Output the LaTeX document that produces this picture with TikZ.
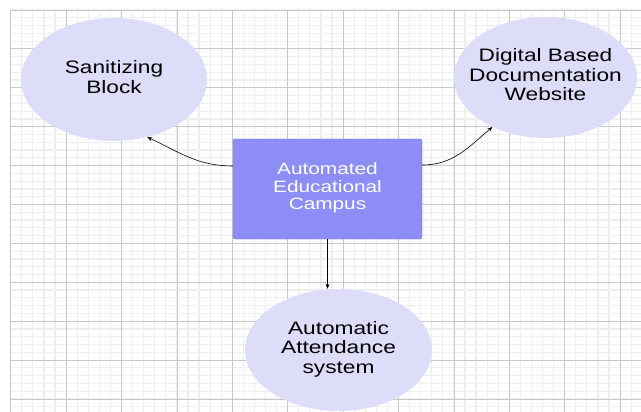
\documentclass[tikz,border=0pt]{standalone}
\usepackage{fontspec}
\setmainfont{Liberation Sans}
\usepackage{graphicx}
\usetikzlibrary{shapes.geometric, arrows.meta}

\definecolor{ovalfill}{RGB}{221,221,250}
\definecolor{boxfill}{RGB}{141,141,247}
\definecolor{boxline}{RGB}{118,118,222}
\definecolor{gridmajor}{RGB}{200,200,200}
\definecolor{gridminor}{RGB}{238,238,238}

% wide sans text, centred, taking no width of its own
\newcommand{\widetext}[1]{\makebox[0pt]{\scalebox{1.26}[1]{\begin{tabular}{@{}c@{}}#1\end{tabular}}}}

\tikzset{
    oval/.style={ellipse, fill=ovalfill, inner sep=0pt, font=\fontsize{18}{19.5}\selectfont},
    campusbox/.style={rectangle, rounded corners=2pt, fill=boxfill, draw=boxline, text=white, inner sep=0pt, font=\fontsize{16.5}{17.5}\selectfont},
    link/.style={-{Stealth[length=5pt,width=4pt]}, line width=0.6pt}
}

\begin{document}
\begin{tikzpicture}[x=1pt, y=-1pt]
    \useasboundingbox (0,0) rectangle (641,412);
    \fill[white] (0,0) rectangle (641,412);

    % grid paper
    \foreach \i in {0,...,56}
        \draw[gridminor, line width=1.2pt] ({10.7+11.08*\i},10) -- ({10.7+11.08*\i},412);
    \foreach \j in {0,...,51}
        \draw[gridminor, line width=1.2pt] (10.7,{10+7.78*\j}) -- (641,{10+7.78*\j});
    \foreach \i in {0,...,11}
        \draw[gridmajor, line width=0.8pt] ({10.7+55.4*\i},10) -- ({10.7+55.4*\i},412);
    \foreach \j in {0,...,10}
        \draw[gridmajor, line width=0.8pt] (10.7,{10+38.9*\j}) -- (641,{10+38.9*\j});

    \node[oval, minimum width=186pt, minimum height=123pt] (sani) at (114,79.5) {\widetext{Sanitizing\\Block}};
    \node[oval, minimum width=183pt, minimum height=121pt] (dig) at (545.5,77.5) {\widetext{Digital Based\\Documentation\\Website}};
    \node[oval, minimum width=187pt, minimum height=122pt] (attend) at (338.5,350) {\widetext{Automatic\\Attendance\\system}};
    \node[campusbox, minimum width=189pt, minimum height=100pt] (campus) at (327.5,189) {\widetext{Automated\\Educational\\Campus}};

    \draw[link] ([yshift=23pt]campus.west) to[out=180, in=-25] (sani.-60);
    \draw[link] ([yshift=24pt]campus.east) to[out=0, in=-140] (dig.-137);
    \draw[link] (campus.south) -- (campus.south |- attend.north);
\end{tikzpicture}
\end{document}
